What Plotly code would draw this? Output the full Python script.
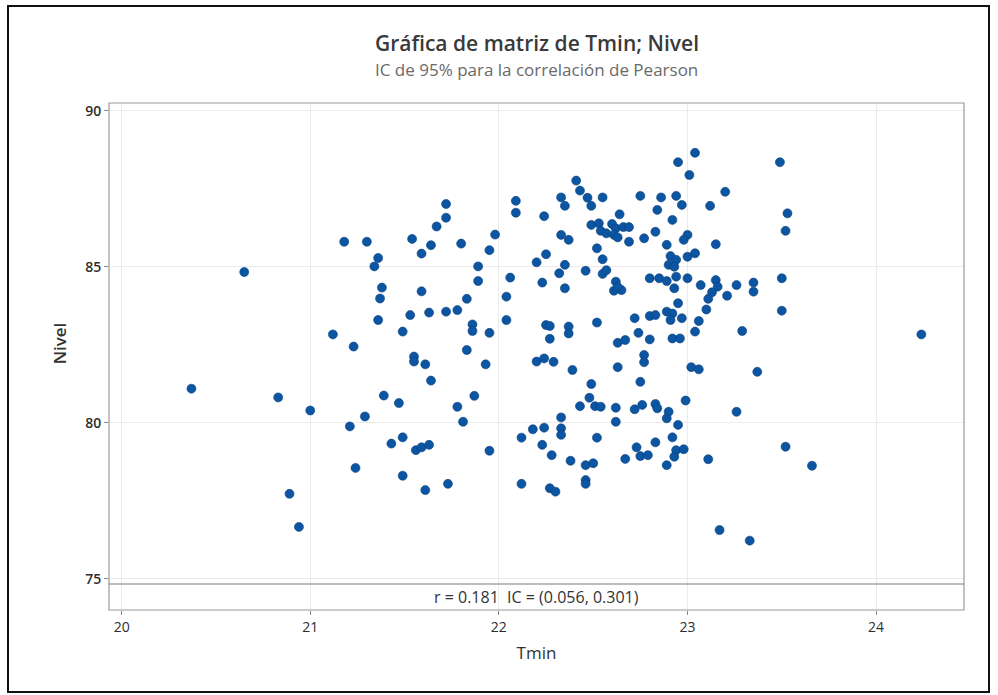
import plotly.graph_objects as go

tmin = [20.37, 20.65, 20.83, 20.89, 20.94, 21.00, 21.12, 21.18, 21.23, 21.30,
        21.36, 21.34, 21.38, 21.37, 21.36, 21.39, 21.47, 21.29, 21.21, 21.43,
        21.24, 21.49, 21.49, 21.49, 21.53, 21.54, 21.59, 21.64, 21.67, 21.72,
        21.72, 21.80, 21.98, 21.95, 21.59, 21.63, 21.72, 21.78, 21.83, 21.89,
        21.89, 21.86, 21.86, 21.95, 21.83, 21.55, 21.55, 21.61, 21.64, 21.93,
        21.78, 21.81, 21.87, 21.56, 21.59, 21.63, 21.61, 21.73, 21.95, 22.04,
        22.04, 22.06, 22.09, 22.09, 22.24, 22.25, 22.20, 22.23, 22.25, 22.12,
        22.18, 22.24, 22.23, 22.28, 22.12, 22.27, 22.30, 22.20, 22.24, 22.29,
        22.27, 22.27, 22.33, 22.33, 22.33, 22.41, 22.43, 22.47, 22.49, 22.33,
        22.35, 22.55, 22.75, 22.86, 22.94, 22.95, 23.04, 23.01, 22.97, 23.20,
        23.12, 22.84, 22.92, 22.64, 22.49, 22.53, 22.54, 22.60, 22.62, 22.66,
        22.69, 22.57, 22.61, 22.63, 22.69, 22.77, 22.83, 23.00, 22.98, 22.89,
        22.33, 22.37, 22.52, 22.55, 22.46, 22.55, 22.57, 22.35, 22.32, 22.35,
        22.62, 22.61, 22.65, 22.63, 22.80, 22.85, 22.89, 22.93, 22.94, 22.91,
        22.94, 22.90, 22.93, 23.15, 23.00, 23.04, 23.00, 23.07, 23.15, 23.16,
        23.13, 23.11, 23.10, 23.21, 23.26, 23.35, 23.35, 22.89, 22.92, 22.91,
        22.97, 22.95, 23.06, 23.04, 22.72, 22.80, 22.83, 22.52, 22.37, 22.37,
        22.74, 22.80, 22.63, 22.67, 22.92, 22.96, 23.29, 23.50, 23.50, 23.49,
        23.53, 23.52, 24.24, 23.02, 23.06, 23.37, 22.99, 22.90, 22.89, 23.26,
        22.95, 22.92, 22.94, 22.98, 22.93, 22.89, 23.11, 23.52, 23.66, 23.17,
        23.33, 22.39, 22.77, 22.77, 22.63, 22.75, 22.49, 22.48, 22.43, 22.51,
        22.54, 22.62, 22.62, 22.72, 22.76, 22.83, 22.84, 22.52, 22.83, 22.73,
        22.75, 22.79, 22.67, 22.38, 22.46, 22.50, 22.46, 22.46]

nivel = [81.09, 84.83, 80.81, 77.72, 76.66, 80.39, 82.83, 85.80, 82.44, 85.80,
         85.28, 85.01, 84.33, 83.98, 83.29, 80.87, 80.63, 80.20, 79.88, 79.33,
         78.55, 79.53, 78.30, 82.92, 83.45, 85.89, 85.42, 85.69, 86.29, 86.57,
         87.01, 85.74, 86.03, 85.53, 84.21, 83.53, 83.56, 83.61, 83.97, 85.01,
         84.54, 83.15, 82.94, 82.88, 82.33, 82.12, 81.96, 81.87, 81.35, 81.87,
         80.51, 80.03, 80.86, 79.12, 79.21, 79.29, 77.84, 78.04, 79.10, 84.04,
         83.29, 84.65, 87.11, 86.73, 86.62, 85.40, 85.14, 84.49, 83.13, 79.52,
         79.79, 79.84, 79.29, 78.96, 78.04, 77.90, 77.79, 81.96, 82.06, 81.95,
         83.10, 82.69, 80.17, 79.82, 79.61, 87.76, 87.44, 87.21, 86.95, 87.22,
         86.95, 87.22, 87.27, 87.22, 87.27, 88.35, 88.65, 87.94, 86.98, 87.40,
         86.95, 86.82, 86.50, 86.68, 86.34, 86.39, 86.15, 86.37, 86.23, 86.27,
         86.27, 86.07, 86.02, 85.94, 85.80, 85.91, 86.12, 86.02, 85.86, 85.70,
         86.02, 85.86, 85.59, 85.24, 84.87, 84.77, 84.89, 85.06, 84.79, 84.31,
         84.52, 84.23, 84.25, 84.35, 84.63, 84.63, 84.54, 84.31, 84.68, 85.34,
         85.22, 85.06, 85.00, 85.72, 85.32, 85.43, 84.63, 84.41, 84.57, 84.36,
         84.18, 83.97, 83.63, 84.07, 84.41, 84.49, 84.20, 83.56, 83.50, 83.29,
         83.35, 83.83, 83.26, 82.92, 83.35, 83.42, 83.45, 83.21, 83.08, 82.86,
         82.88, 82.67, 82.56, 82.65, 82.70, 82.70, 82.94, 84.63, 83.59, 88.35,
         86.71, 86.15, 82.83, 81.78, 81.71, 81.63, 80.71, 80.35, 80.14, 80.35,
         79.93, 79.53, 79.12, 79.15, 78.91, 78.64, 78.83, 79.23, 78.62, 76.56,
         76.22, 81.69, 82.17, 81.94, 81.78, 81.31, 81.24, 80.80, 80.53, 80.53,
         80.51, 80.48, 80.03, 80.43, 80.57, 80.60, 80.46, 79.52, 79.37, 79.21,
         78.93, 78.96, 78.84, 78.78, 78.64, 78.70, 78.16, 78.04]

x_ticks = [20, 21, 22, 23, 24]
y_ticks = [75, 80, 85, 90]
title_text = "Gráfica de matriz de Tmin; Nivel"
subtitle_text = "IC de 95% para la correlación de Pearson"
corr_text = "r = 0.181  IC = (0.056, 0.301)"

FONT = "Open Sans"
panel_frac = 26 / 507

fig = go.Figure()
fig.add_trace(go.Scatter(
    x=tmin, y=nivel, mode="markers", xaxis="x", yaxis="y",
    marker=dict(size=9, color="#0b55a3", line=dict(width=0.6, color="#0a3f7a")),
    showlegend=False, hoverinfo="x+y"))

fig.update_layout(
    width=998, height=695,
    margin=dict(l=109, r=34, t=103, b=85),
    paper_bgcolor="white", plot_bgcolor="white",
    font=dict(family=FONT, color="#333333"),
    xaxis=dict(range=[19.933, 24.466], tickvals=x_ticks, anchor="y2",
               showgrid=True, gridcolor="#ebebeb", gridwidth=1,
               ticks="outside", ticklen=4, tickcolor="#888888",
               tickfont=dict(size=14, color="#2e2e2e"), zeroline=False,
               title=dict(text="Tmin", font=dict(size=17, color="#333333"), standoff=12)),
    yaxis=dict(domain=[panel_frac, 1], range=[74.83, 90.247], tickvals=y_ticks,
               showgrid=True, gridcolor="#ebebeb", gridwidth=1,
               ticks="outside", ticklen=4, tickcolor="#888888",
               tickfont=dict(size=14, color="#2e2e2e", weight=600), zeroline=False,
               title=dict(text="Nivel", font=dict(size=17, color="#333333", weight=600), standoff=14)),
    yaxis2=dict(domain=[0, panel_frac], range=[0, 1], anchor="x",
                showgrid=False, showticklabels=False, zeroline=False, ticks=""),
)

fig.add_trace(go.Scatter(x=[None], y=[None], xaxis="x", yaxis="y2", showlegend=False))

pw = 998 - 109 - 34
ph = 695 - 103 - 85
def px_to_paper_x(px):
    return (px - 109) / pw
def py_to_paper_y(py):
    return (695 - 85 - py) / ph

shapes = [
    dict(type="rect", xref="paper", yref="paper", x0=0, x1=1, y0=0, y1=1,
         line=dict(color="#9a9a9a", width=1.2)),
    dict(type="line", xref="paper", yref="paper", x0=0, x1=1, y0=panel_frac, y1=panel_frac,
         line=dict(color="#7a7a7a", width=1.2)),
    dict(type="rect", xref="paper", yref="paper",
         x0=px_to_paper_x(8), x1=px_to_paper_x(989),
         y0=py_to_paper_y(692), y1=py_to_paper_y(6),
         line=dict(color="#111111", width=2)),
]
fig.update_layout(shapes=shapes)

fig.add_annotation(text=title_text, xref="paper", yref="paper",
                   x=0.5, y=py_to_paper_y(43), showarrow=False,
                   font=dict(size=21, color="#3a3a3a", family=FONT, weight=600), yanchor="middle")
fig.add_annotation(text=subtitle_text, xref="paper", yref="paper",
                   x=0.5, y=py_to_paper_y(70), showarrow=False,
                   font=dict(size=17, color="#6a6a6a", family=FONT), yanchor="middle")
fig.add_annotation(text=corr_text, xref="paper", yref="paper",
                   x=0.5, y=panel_frac / 2, showarrow=False,
                   font=dict(size=16, color="#333333", family=FONT), yanchor="middle")

fig.write_html("out.html", config={"displayModeBar": False},
               post_script="document.body.style.margin='0';document.body.style.padding='0';")
